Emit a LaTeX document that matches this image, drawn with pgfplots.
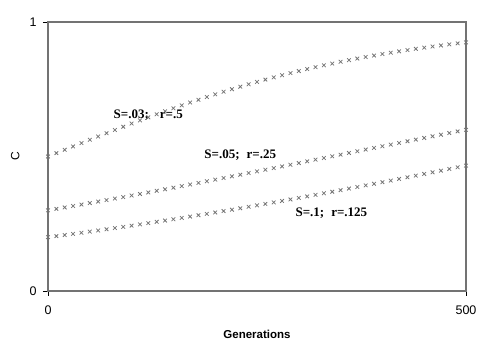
\documentclass[border=0pt]{standalone}
\usepackage{fontspec}
\setmainfont{Liberation Sans}
\newfontfamily\timesf{Liberation Serif}
\usepackage{pgfplots}
\pgfplotsset{compat=1.18}
\usepackage{pgfplotstable}
\pgfplotstableread{
g c
0 0.5000
10 0.5125
20 0.5250
30 0.5374
40 0.5498
50 0.5622
60 0.5744
70 0.5866
80 0.5987
90 0.6106
100 0.6225
110 0.6341
120 0.6457
130 0.6570
140 0.6682
150 0.6792
160 0.6900
170 0.7006
180 0.7109
190 0.7211
200 0.7311
210 0.7408
220 0.7503
230 0.7595
240 0.7685
250 0.7773
260 0.7858
270 0.7941
280 0.8022
290 0.8100
300 0.8176
310 0.8249
320 0.8320
330 0.8389
340 0.8455
350 0.8520
360 0.8581
370 0.8641
380 0.8699
390 0.8754
400 0.8808
410 0.8859
420 0.8909
430 0.8957
440 0.9002
450 0.9047
460 0.9089
470 0.9130
480 0.9168
490 0.9206
500 0.9241
}\seriesA
\pgfplotstableread{
g c
0 0.3000
10 0.3053
20 0.3106
30 0.3160
40 0.3214
50 0.3269
60 0.3324
70 0.3380
80 0.3436
90 0.3492
100 0.3550
110 0.3607
120 0.3665
130 0.3723
140 0.3782
150 0.3841
160 0.3900
170 0.3960
180 0.4020
190 0.4080
200 0.4140
210 0.4201
220 0.4262
230 0.4323
240 0.4385
250 0.4447
260 0.4508
270 0.4570
280 0.4632
290 0.4694
300 0.4757
310 0.4819
320 0.4882
330 0.4944
340 0.5007
350 0.5069
360 0.5132
370 0.5194
380 0.5257
390 0.5319
400 0.5381
410 0.5443
420 0.5505
430 0.5567
440 0.5628
450 0.5690
460 0.5751
470 0.5812
480 0.5873
490 0.5934
500 0.5993
}\seriesB
\pgfplotstableread{
g c
0 0.2000
10 0.2040
20 0.2081
30 0.2123
40 0.2165
50 0.2208
60 0.2251
70 0.2295
80 0.2339
90 0.2384
100 0.2430
110 0.2476
120 0.2523
130 0.2571
140 0.2619
150 0.2667
160 0.2716
170 0.2766
180 0.2817
190 0.2867
200 0.2919
210 0.2971
220 0.3023
230 0.3076
240 0.3130
250 0.3184
260 0.3238
270 0.3293
280 0.3348
290 0.3404
300 0.3461
310 0.3517
320 0.3575
330 0.3632
340 0.3690
350 0.3749
360 0.3808
370 0.3867
380 0.3926
390 0.3986
400 0.4046
410 0.4106
420 0.4167
430 0.4228
440 0.4289
450 0.4351
460 0.4412
470 0.4474
480 0.4536
490 0.4598
500 0.4660
}\seriesC
\begin{document}
\begin{tikzpicture}
\path[use as bounding box] (-48pt,-62pt) rectangle (450pt,291pt);
\begin{axis}[
  at={(0,0)}, anchor=origin,
  scale only axis, width=418pt, height=269pt,
  xmin=0, xmax=500, ymin=0, ymax=1,
  axis lines=box,
  x axis line style={black, line width=0.9pt},
  y axis line style={black!55, line width=1.2pt},
  xtick={0,500}, ytick={0,1},
  xtick pos=bottom, ytick pos=left,
  tick align=outside, major tick length=5pt,
  tick style={black, line width=0.7pt},
  tick label style={font=\fontsize{12.5}{14}\selectfont},
  xticklabel style={yshift=-6pt},
  yticklabel style={xshift=-3pt},
  /pgf/number format/assume math mode=true,
  xlabel={\bfseries Generations},
  ylabel={C},
  xlabel style={font=\fontsize{11.5}{13}\selectfont, at={(axis description cs:0.5,0)}, anchor=north, yshift=-36pt},
  ylabel style={font=\fontsize{12}{13}\selectfont, at={(axis description cs:0,0.5)}, anchor=south, yshift=25pt},
  clip=false,
]
\addplot[only marks, mark=x, mark size=2.6pt, black!55, mark options={line width=0.75pt}] table[x=g,y=c] {\seriesA};
\addplot[only marks, mark=x, mark size=2.6pt, black!55, mark options={line width=0.75pt}] table[x=g,y=c] {\seriesB};
\addplot[only marks, mark=x, mark size=2.6pt, black!55, mark options={line width=0.75pt}] table[x=g,y=c] {\seriesC};
\node[font=\timesf\bfseries\fontsize{13}{15}\selectfont] at (axis cs:120,0.655) {S=.03;\hspace{11pt}r=.5};
\node[font=\timesf\bfseries\fontsize{13}{15}\selectfont] at (axis cs:230,0.504) {S=.05;\hspace{7pt}r=.25};
\node[font=\timesf\bfseries\fontsize{13}{15}\selectfont] at (axis cs:339,0.288) {S=.1;\hspace{7pt}r=.125};
\end{axis}
\end{tikzpicture}
\end{document}
